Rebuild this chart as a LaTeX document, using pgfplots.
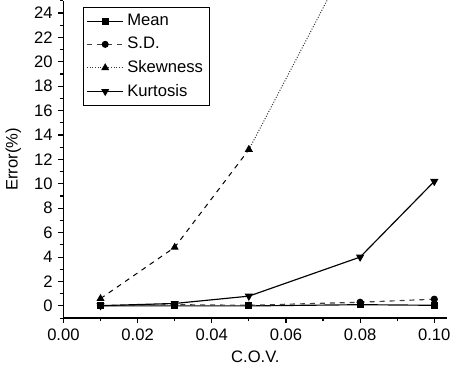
\documentclass[border=0pt]{standalone}
\usepackage{pgfplots}
\pgfplotsset{compat=1.18}
\usepackage{fontspec}
\setmainfont{Liberation Sans}
\begin{document}
\fontsize{10pt}{12pt}\selectfont
\begin{tikzpicture}
\begin{axis}[
  scale only axis,
  width=231pt, height=191pt,
  xmin=0, xmax=0.1035, ymin=-1, ymax=25,
  axis x line*=bottom, axis y line*=left,
  axis line style={line width=0.9pt},
  xtick={0,0.02,0.04,0.06,0.08,0.10},
  minor xtick={0.01,0.03,0.05,0.07,0.09},
  ytick={0,2,...,24},
  minor ytick={-1,1,...,25},
  tick align=outside,
  major tick length=3pt, minor tick length=2pt,
  tick style={black, line width=0.7pt},
  xticklabel style={/pgf/number format/.cd,fixed,fixed zerofill,precision=2},
  /pgf/number format/assume math mode=true,
  ticklabel style={font=\fontsize{10pt}{12pt}\selectfont},
  xlabel={C.O.V.}, ylabel={Error(\%)},
  label style={font=\fontsize{10pt}{12pt}\selectfont},
  xlabel style={yshift=1pt},
  ylabel style={yshift=1pt},
  clip=true,
  legend style={at={(0.05,0.98)}, anchor=north west, draw=black, line width=0.6pt,
    font=\fontsize{10pt}{12pt}\selectfont, inner sep=2pt, row sep=1.5pt,
    legend cell align=left},
  legend image code/.code={%
    \draw[mark repeat=2,mark phase=2,#1] plot coordinates {(0pt,0pt) (11pt,0pt) (22pt,0pt)};},
  legend image post style={line width=0.6pt},
]
\addplot[black, line width=0.7pt, mark=square*, mark size=1.8pt] coordinates {
 (0.01,0) (0.03,0) (0.05,0) (0.08,0.1) (0.10,0.05)};
\addlegendentry{Mean}
\addplot[black!75, line width=0.7pt, dashed, mark=*, mark size=1.8pt, mark options={solid,black}] coordinates {
 (0.01,0.02) (0.03,0.1) (0.05,0.05) (0.08,0.3) (0.10,0.55)};
\addlegendentry{S.D.}
\addplot[black!80, line width=0.6pt, densely dotted, mark=triangle*, mark size=2.2pt, mark options={solid,black}] coordinates {
 (0.05,12.8) (0.08,30.2)};
\addlegendentry{Skewness}
\addplot[black, line width=0.6pt, dashed, forget plot, mark=triangle*, mark size=2.2pt, mark options={solid}] coordinates {
 (0.01,0.6) (0.03,4.8) (0.05,12.8)};
\addplot[black, line width=0.7pt, mark=triangle*, mark size=2.2pt, mark options={rotate=180}] coordinates {
 (0.01,0.02) (0.03,0.2) (0.05,0.8) (0.08,4.0) (0.10,10.2)};
\addlegendentry{Kurtosis}
\end{axis}
\end{tikzpicture}
\end{document}
